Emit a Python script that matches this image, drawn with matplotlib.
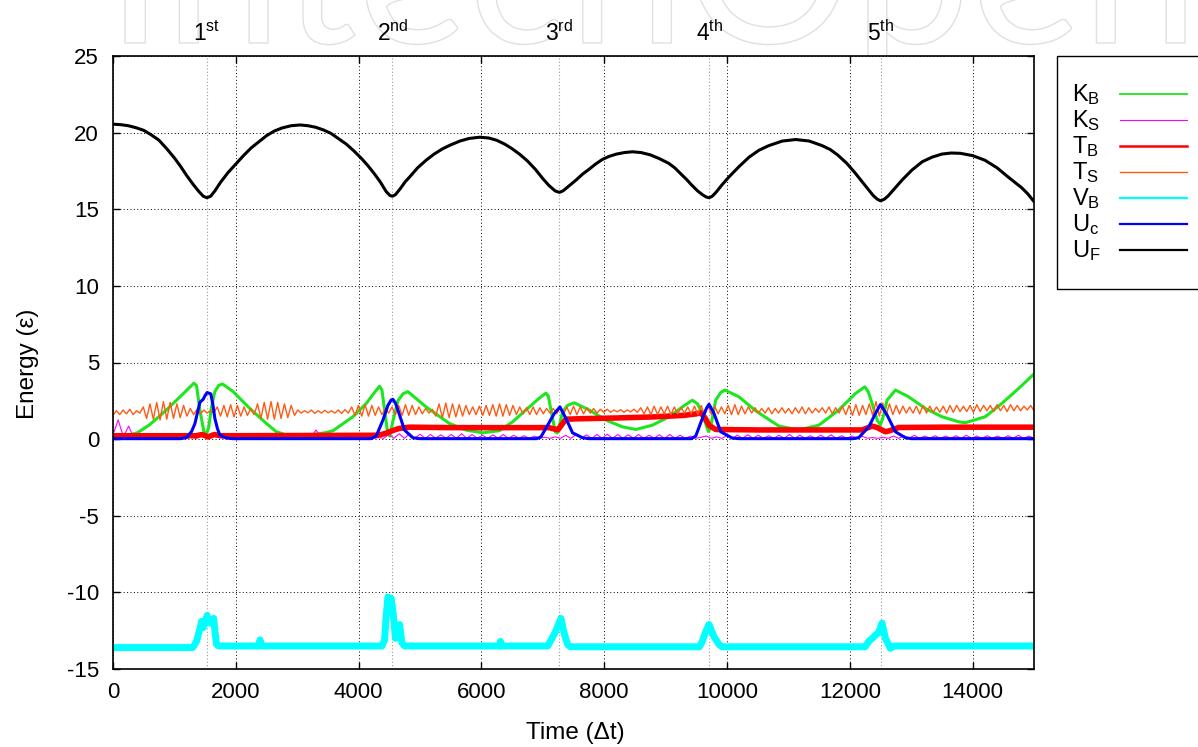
import matplotlib
matplotlib.use("Agg")
import matplotlib.pyplot as plt
import numpy as np
from matplotlib.lines import Line2D
from matplotlib.patches import Rectangle, PathPatch
from matplotlib.textpath import TextPath
from matplotlib.font_manager import FontProperties
from matplotlib.transforms import Affine2D, IdentityTransform, blended_transform_factory

plt.rcParams['font.family'] = ['Liberation Sans', 'DejaVu Sans']
plt.rcParams['mathtext.fontset'] = 'custom'
plt.rcParams['mathtext.rm'] = 'Liberation Sans'
plt.rcParams['mathtext.it'] = 'Liberation Sans:italic'
plt.rcParams['mathtext.bf'] = 'Liberation Sans:bold'
plt.rcParams['axes.unicode_minus'] = False

# collision events (time steps) and their labels
events = [1530, 4550, 7270, 9710, 12500]
event_labels = [r"1$^{\mathrm{st}}$", r"2$^{\mathrm{nd}}$", r"3$^{\mathrm{rd}}$",
                r"4$^{\mathrm{th}}$", r"5$^{\mathrm{th}}$"]

# U_F
uf_t = [0, 125, 250, 375, 500, 625, 750, 875, 1000, 1100, 1200, 1300, 1400, 1470, 1530, 1590,
        1660, 1750, 1875, 2000, 2125, 2250, 2375, 2500, 2625, 2750, 2900, 3050, 3175, 3300,
        3425, 3550, 3675, 3800, 3925, 4050, 4150, 4250, 4350, 4450, 4510, 4550, 4600, 4680,
        4760, 4830, 4960, 5100, 5230, 5370, 5500, 5650, 5800, 5970, 6120, 6250, 6380, 6500,
        6620, 6750, 6880, 7000, 7100, 7200, 7270, 7330, 7420, 7540, 7650, 7750, 7860, 7970,
        8080, 8200, 8330, 8460, 8600, 8750, 8900, 9050, 9150, 9250, 9340, 9420, 9520, 9600,
        9660, 9710, 9760, 9820, 9920, 10030, 10200, 10360, 10520, 10680, 10900, 11120, 11340,
        11550, 11680, 11800, 11950, 12080, 12200, 12300, 12380, 12450, 12500, 12560, 12620,
        12730, 12850, 13010, 13180, 13340, 13500, 13650, 13800, 14000, 14200, 14400, 14580,
        14800, 14900, 15000]
uf_v = [20.55, 20.52, 20.45, 20.32, 20.15, 19.85, 19.5, 18.95, 18.35, 17.8, 17.2, 16.65, 16.15,
        15.85, 15.75, 15.85, 16.2, 16.75, 17.4, 17.95, 18.5, 19.0, 19.4, 19.8, 20.1, 20.3,
        20.45, 20.5, 20.45, 20.35, 20.18, 19.95, 19.6, 19.25, 18.8, 18.3, 17.85, 17.35, 16.8,
        16.15, 15.9, 15.85, 15.95, 16.35, 16.8, 17.1, 17.7, 18.2, 18.6, 18.95, 19.2, 19.45,
        19.62, 19.7, 19.65, 19.5, 19.25, 18.95, 18.6, 18.15, 17.6, 17.0, 16.55, 16.2, 16.1,
        16.2, 16.5, 16.9, 17.3, 17.6, 17.95, 18.25, 18.45, 18.6, 18.7, 18.75, 18.7, 18.55,
        18.3, 18.0, 17.7, 17.3, 16.95, 16.6, 16.2, 15.95, 15.8, 15.75, 15.85, 16.1, 16.6,
        17.1, 17.8, 18.4, 18.85, 19.15, 19.45, 19.55, 19.45, 19.15, 18.9, 18.55, 18.0, 17.4,
        16.8, 16.3, 15.9, 15.65, 15.55, 15.65, 15.85, 16.35, 16.9, 17.55, 18.1, 18.4, 18.6,
        18.67, 18.65, 18.5, 18.2, 17.7, 17.1, 16.4, 16.0, 15.5]

# K_B
kb_t = [0, 200, 400, 600, 870, 1140, 1317, 1360, 1415, 1480, 1520, 1560, 1604, 1659, 1720,
        1784, 1957, 2228, 2499, 2661, 2800, 3000, 3200, 3474, 3583, 3908, 4125, 4250, 4341,
        4380, 4423, 4477, 4510, 4560, 4640, 4720, 4802, 5100, 5480, 5751, 6021, 6293, 6509,
        6780, 6950, 7052, 7090, 7133, 7203, 7235, 7270, 7322, 7403, 7512, 7756, 8028, 8298,
        8515, 8785, 9057, 9273, 9436, 9520, 9598, 9696, 9730, 9816, 9900, 9967, 10195, 10467,
        10737, 10846, 11171, 11496, 11821, 12093, 12244, 12300, 12363, 12450, 12499, 12540,
        12607, 12743, 12959, 13230, 13501, 13772, 13881, 14206, 14476, 14748, 15000]
kb_v = [0.05, 0.2, 0.42, 0.95, 1.9, 2.95, 3.65, 3.5, 1.9, 0.5, 0.3, 0.8, 2.1, 3.1, 3.5,
        3.6, 3.1, 2.0, 1.02, 0.48, 0.3, 0.2, 0.25, 0.43, 0.55, 1.46, 2.33, 3.0, 3.45,
        3.2, 1.9, 0.3, 0.2, 1.2, 2.5, 2.95, 3.1, 2.1, 1.02, 0.59, 0.41, 0.55, 1.13,
        2.1, 2.7, 3.0, 2.8, 1.9, 0.48, 0.4, 0.9, 1.78, 2.2, 2.37, 1.9, 1.24, 0.8,
        0.63, 0.91, 1.46, 2.1, 2.54, 2.3, 1.67, 0.5, 0.7, 2.54, 3.05, 3.2, 2.76, 1.85,
        1.13, 0.85, 0.6, 0.91, 1.9, 2.98, 3.41, 3.1, 2.33, 1.2, 0.95, 1.4,
        2.54, 3.2, 2.76, 2.0, 1.46, 1.13, 1.07, 1.46, 2.33, 3.3, 4.25]

# K_S, evenly spaced samples over the run
ks_v = [0.3, 1.25, 0.15, 0.85, 0.08,
        0.12, 0.05, 0.15, 0.06, 0.12, 0.05, 0.14, 0.06, 0.12, 0.05,
        0.15, 0.05, 0.18, 0.3, 0.1, 0.28, 0.08, 0.2, 0.05, 0.12,
        0.06, 0.14, 0.05, 0.12, 0.06, 0.15, 0.05, 0.12, 0.06, 0.14,
        0.05, 0.12, 0.2, 0.08, 0.6, 0.1, 0.15, 0.05, 0.12, 0.06,
        0.14, 0.05, 0.12, 0.06, 0.15, 0.05, 0.1,
        0.05, 0.3, 0.06, 0.35, 0.05, 0.35, 0.06, 0.32, 0.05, 0.3, 0.06, 0.28, 0.05, 0.3,
        0.06, 0.35, 0.05, 0.3, 0.06, 0.25, 0.05, 0.28, 0.06, 0.3, 0.05, 0.25, 0.06, 0.22,
        0.05, 0.2, 0.06,
        0.12, 0.05, 0.15, 0.05,
        0.25, 0.05, 0.3, 0.06, 0.28, 0.05, 0.3, 0.05, 0.32, 0.06, 0.3, 0.05, 0.28, 0.06,
        0.3, 0.05, 0.25, 0.06, 0.28, 0.05, 0.3, 0.06, 0.25, 0.05, 0.2, 0.06,
        0.12, 0.2, 0.05, 0.15, 0.05,
        0.22, 0.05, 0.25, 0.06, 0.28, 0.05, 0.25, 0.06, 0.22, 0.05, 0.25, 0.06, 0.3, 0.05,
        0.25, 0.06, 0.22, 0.05, 0.25, 0.06, 0.28, 0.05, 0.22, 0.06, 0.2, 0.05, 0.18, 0.06,
        0.1, 0.05, 0.12, 0.05,
        0.2, 0.05, 0.22, 0.06, 0.25, 0.05, 0.2, 0.06, 0.22, 0.05, 0.2, 0.06, 0.22, 0.05,
        0.25, 0.06, 0.2, 0.05, 0.22, 0.06, 0.2, 0.05, 0.22, 0.06, 0.25, 0.05, 0.2, 0.06]

# T_B
tb_t = [0, 1350, 1450, 1550, 1650, 1750, 4300, 4420, 4504, 4600, 4667, 4829, 5500, 6500,
        7100, 7200, 7250, 7320, 7377, 7600, 8200, 8800, 9300, 9500, 9570, 9640, 9707, 9816,
        10500, 11500, 12200, 12300, 12363, 12450, 12520, 12580, 12650, 12797, 13500, 15000]
tb_v = [0.22, 0.22, 0.3, 0.15, 0.3, 0.22, 0.25, 0.35, 0.48, 0.62, 0.7, 0.78, 0.75, 0.75,
        0.75, 0.65, 0.62, 1.0, 1.3, 1.33, 1.38, 1.45, 1.55, 1.65, 1.72, 1.4, 0.9, 0.63,
        0.6, 0.6, 0.6, 0.75, 0.85, 0.75, 0.6, 0.48, 0.55, 0.76, 0.78, 0.78]

# T_S, evenly spaced samples over the run
ts_v = [1.55, 1.85, 1.6, 1.9, 1.65, 1.95, 1.6, 1.85, 1.7,
        2.1, 1.35, 2.3, 1.3, 2.4, 1.25, 2.45, 1.3, 2.4, 1.35, 2.3, 1.4, 2.2, 1.5,
        2.0, 1.6, 1.95, 1.65, 1.9, 1.7, 1.85, 1.7,
        2.1, 1.5, 2.2, 1.45, 2.25, 1.45, 2.2, 1.5, 2.1, 1.55, 2.0, 1.6,
        2.3, 1.35, 2.4, 1.3, 2.45, 1.3, 2.4, 1.35, 2.3, 1.4, 2.2, 1.55,
        1.9, 1.7, 1.85, 1.72, 1.9, 1.68, 1.85, 1.7, 1.88, 1.72, 1.85, 1.7, 1.9, 1.68, 1.92, 1.7,
        2.1, 1.55, 2.2, 1.5, 2.25, 1.5, 2.2, 1.55, 2.1, 1.6, 2.0,
        1.7, 2.1, 1.6, 2.2, 1.55, 2.25, 1.55, 2.2, 1.6, 2.1, 1.65, 2.0, 1.7, 1.95,
        1.5, 2.3, 1.4, 2.35, 1.4, 2.3, 1.45, 2.25, 1.5, 2.2,
        1.6, 2.1, 1.6, 2.15, 1.55, 2.2, 1.55, 2.25, 1.5, 2.3, 1.5, 2.25, 1.55, 2.2, 1.6, 2.1,
        1.65, 2.05, 1.6, 2.1, 1.6, 2.05, 1.65, 2.0, 1.7, 2.0, 1.65, 2.05,
        1.6, 2.1, 1.6, 2.15, 1.6, 2.1, 1.65, 2.05, 1.7, 2.0, 1.7, 1.95, 1.75,
        1.95, 1.75, 1.9, 1.78, 1.92, 1.75, 1.9, 1.78, 1.95, 1.75,
        2.05, 1.65, 2.1, 1.6, 2.15, 1.6, 2.1, 1.65, 2.15, 1.6, 2.1, 1.65, 2.05, 1.7, 2.1, 1.65,
        2.15, 1.6, 2.2, 1.55, 2.2, 1.6, 2.15, 1.65, 2.1, 1.65, 2.2, 1.6, 2.25, 1.6, 2.15, 1.65,
        2.1, 1.7, 2.05, 1.7,
        2.0, 1.7, 2.05, 1.65, 2.0, 1.7, 2.05, 1.7, 2.0, 1.65, 2.05, 1.7, 2.1, 1.65, 2.05, 1.7,
        2.0, 1.75, 2.05, 1.7, 2.1, 1.65, 2.05, 1.7,
        2.15, 1.6, 2.2, 1.55, 2.25, 1.55, 2.2, 1.6, 2.3, 1.55, 2.45, 1.5, 2.35, 1.55, 2.3, 1.6,
        2.2, 1.65, 2.15, 1.7, 2.1,
        1.7, 2.15, 1.65, 2.2, 1.7, 2.15, 1.75, 2.1, 1.75, 2.15, 1.7, 2.2, 1.75, 2.2, 1.8, 2.15,
        1.8, 2.2, 1.75, 2.25, 1.8, 2.2, 1.85, 2.2, 1.8, 2.25, 1.85, 2.2, 1.8, 2.25, 1.85, 2.2,
        1.85, 2.15, 1.9, 2.2, 1.85]

# V_B
vb_t = [0, 1300, 1360, 1420, 1442, 1470, 1496, 1533, 1560, 1577, 1610, 1640, 1659, 1686, 1720,
        2380, 2395, 2410, 4380, 4423, 4450, 4477, 4531, 4569, 4600, 4640, 4667, 4690, 4705,
        4750, 6300, 6310, 6320, 7079, 7150, 7214, 7295, 7350, 7404, 7450, 9550, 9598, 9650,
        9707, 9789, 9870, 9920, 12250, 12309, 12472, 12525, 12580, 12661, 12720, 15000]
vb_v = [-13.6, -13.6, -13.2, -12.3, -11.9, -12.3, -12.0, -11.5, -11.9, -12.0, -11.8, -11.7,
        -12.5, -13.4, -13.5, -13.5, -13.1, -13.5, -13.5, -13.1, -11.5, -10.3, -10.4, -11.6,
        -13.0, -12.9, -12.1, -12.8, -13.3, -13.5, -13.5, -13.2, -13.5, -13.5, -13.0, -12.5,
        -11.7, -12.7, -13.4, -13.55, -13.55, -13.2, -12.6, -12.1, -12.9, -13.4, -13.55,
        -13.55, -13.2, -12.6, -12.0, -13.0, -13.65, -13.5, -13.5]

# U_c
uc_t = [0, 1100, 1198, 1280, 1333, 1415, 1469, 1500, 1533, 1593, 1625, 1659, 1700, 1740, 1849,
        1950, 4200, 4287, 4396, 4477, 4530, 4558, 4600, 4640, 4748, 4883, 5000, 6900, 6970,
        7079, 7187, 7279, 7377, 7485, 7648, 7750, 9420, 9491, 9588, 9664, 9707, 9789, 9897,
        10086, 10200, 12050, 12146, 12309, 12418, 12499, 12607, 12743, 12905, 13000, 15000]
uc_v = [0.03, 0.03, 0.1, 0.5, 1.0, 2.4, 2.6, 2.85, 3.04, 2.95, 2.3, 1.35, 0.7, 0.26, 0.07,
        0.03, 0.03, 0.2, 1.24, 2.2, 2.55, 2.6, 2.35, 1.9, 0.59, 0.09, 0.03, 0.03, 0.15,
        0.91, 1.67, 2.1, 1.35, 0.41, 0.09, 0.03, 0.03, 0.2, 1.24, 2.0, 2.28, 1.67, 0.48,
        0.07, 0.03, 0.03, 0.1, 0.8, 1.67, 2.26, 1.57, 0.48, 0.09, 0.03, 0.03]

x_ticks = [0, 2000, 4000, 6000, 8000, 10000, 12000, 14000]
y_ticks = [-15, -10, -5, 0, 5, 10, 15, 20, 25]

series = [
    (r"K$_\mathrm{B}$", kb_t, kb_v, "#1ee61e", 2.2, 1.3),
    (r"K$_\mathrm{S}$", np.linspace(0, 15000, len(ks_v)), ks_v, "#ff00ff", 0.8, 0.8),
    (r"T$_\mathrm{B}$", tb_t, tb_v, "#ff0000", 4.0, 1.8),
    (r"T$_\mathrm{S}$", np.linspace(0, 15000, len(ts_v)), ts_v, "#ff5a14", 1.0, 1.0),
    (r"V$_\mathrm{B}$", vb_t, vb_v, "#00ffff", 5.0, 1.6),
    (r"U$_\mathrm{c}$", uc_t, uc_v, "#0000ff", 2.2, 1.6),
    (r"U$_\mathrm{F}$", uf_t, uf_v, "#000000", 2.2, 1.6),
]

W, H = 1198, 747
fig = plt.figure(figsize=(W / 100, H / 100), dpi=100)
def fx(px): return px / W
def fy(py): return 1 - py / H

ax = fig.add_axes([fx(113), fy(669), fx(1034) - fx(113), fy(56) - fy(669)])

for lab, t, v, c, lw, _ in series:
    ax.plot(t, v, color=c, lw=lw, solid_joinstyle="round")

for t in events:
    ax.axvline(t, color="#9a9a9a", lw=0.8, ls=(0, (1, 2)), zorder=1)

ax.set_xlim(0, 15000)
ax.set_ylim(-15, 25)
ax.set_xticks(x_ticks)
ax.set_yticks(y_ticks)
ax.tick_params(direction="in", length=5, width=1, top=True, right=True, labelsize=16)
ax.tick_params(axis="x", pad=9)
ax.tick_params(axis="y", pad=10)
ax.grid(True, color="black", lw=0.7, ls=(0, (1, 2.5)))
for s in ax.spines.values():
    s.set_linewidth(1.2)

fig.text(fx(28), fy(364), "Energy (ε)", rotation=90, ha="center", va="center", fontsize=17.5)
fig.text(fx(575), fy(733), "Time (Δt)", ha="center", va="center", fontsize=17.5)

# event labels above the frame
tr = blended_transform_factory(ax.transData, fig.transFigure)
for t, lab in zip(events, event_labels):
    ax.text(t, fy(41), lab, transform=tr, ha="center", va="baseline", fontsize=16.5)

# legend box on the right
fig.add_artist(Rectangle((fx(1057), fy(289)), fx(1300) - fx(1057), fy(56) - fy(289),
                         transform=fig.transFigure, fill=False, ec="black", lw=1.0))
for i, (lab, t, v, c, _, llw) in enumerate(series):
    yy = 94 + 26 * i
    fig.text(fx(1072), fy(yy + 7), lab, ha="left", va="baseline", fontsize=17)
    fig.add_artist(Line2D([fx(1120), fx(1187)], [fy(yy), fy(yy)], color=c, lw=llw,
                          transform=fig.transFigure))

# publisher watermark, outline only
tp = TextPath((0, 0), "IntechOpen", size=100, prop=FontProperties(family="Lato"))
ext = tp.get_extents()
sc = (1185 - 125) / ext.width
wm = Affine2D().translate(-ext.x0, 0).scale(sc).translate(125, H - 43)
fig.add_artist(PathPatch(wm.transform_path(tp), fc="none", ec="#e0e0e0", lw=1.0,
                         transform=IdentityTransform(), zorder=0))

fig.savefig("out.png", dpi=100, facecolor="white")
print("saved")
